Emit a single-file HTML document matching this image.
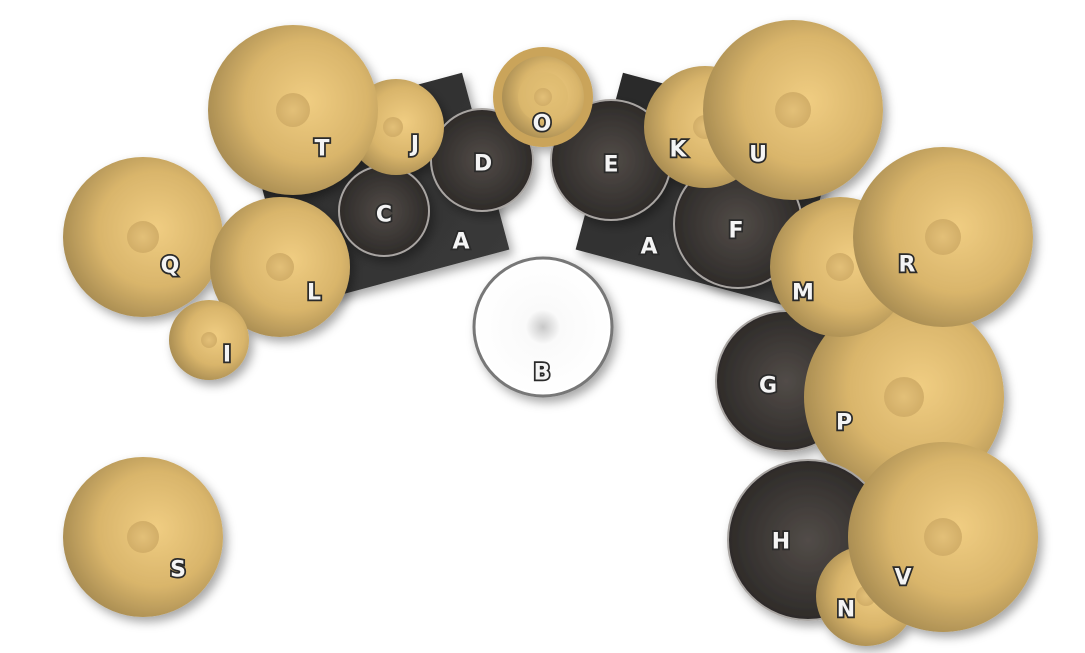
<!DOCTYPE html>
<html><head><meta charset="utf-8"><style>
html,body{margin:0;padding:0;background:#fff;width:1085px;height:653px;overflow:hidden}
svg text{font-family:"DejaVu Sans","Liberation Sans",sans-serif;font-weight:bold;font-size:22px;fill:#f4f4f4;stroke:#2a2a2a;stroke-width:3.5px;paint-order:stroke;text-anchor:middle;dominant-baseline:central}
</style></head><body>
<svg width="1085" height="653" viewBox="0 0 1085 653" xmlns="http://www.w3.org/2000/svg">
<defs>
<radialGradient id="cy" cx="0.58" cy="0.45" r="0.6">
<stop offset="0" stop-color="#f0cd82"/><stop offset="0.6" stop-color="#d9b56b"/><stop offset="1" stop-color="#a88c52"/></radialGradient>
<radialGradient id="bell" cx="0.5" cy="0.5" r="0.5">
<stop offset="0" stop-color="#e3c078"/><stop offset="1" stop-color="#d2ae68"/></radialGradient>
<radialGradient id="dr" cx="0.5" cy="0.5" r="0.5">
<stop offset="0" stop-color="#524c48"/><stop offset="1" stop-color="#2e2b29"/></radialGradient>
<radialGradient id="wh" cx="0.5" cy="0.5" r="0.5">
<stop offset="0" stop-color="#c8c8c8"/><stop offset="0.25" stop-color="#fafafa"/><stop offset="1" stop-color="#ffffff"/></radialGradient>
<linearGradient id="rk" x1="0" y1="0" x2="1" y2="1"><stop offset="0" stop-color="#2a2a2a"/><stop offset="1" stop-color="#3a3a3a"/></linearGradient>
<filter id="sh" x="-30%" y="-30%" width="160%" height="160%"><feDropShadow dx="4" dy="5" stdDeviation="5" flood-color="#000" flood-opacity="0.35"/></filter>
</defs>
<g filter="url(#sh)">
<rect x="266.5" y="98.5" width="223" height="183" fill="url(#rk)" transform="rotate(-15 378 190)"/>
<rect x="595.5" y="98.5" width="223" height="183" fill="url(#rk)" transform="rotate(15 707 190)"/>
</g>
<g filter="url(#sh)">
<circle cx="384" cy="211" r="45" fill="url(#dr)" stroke="#a9a5a2" stroke-width="2"/>
<circle cx="482" cy="160" r="51" fill="url(#dr)" stroke="#a9a5a2" stroke-width="2"/>
<circle cx="611" cy="160" r="60" fill="url(#dr)" stroke="#a9a5a2" stroke-width="2"/>
<circle cx="738" cy="224" r="64" fill="url(#dr)" stroke="#a9a5a2" stroke-width="2"/>
<circle cx="396" cy="127" r="48" fill="url(#cy)"/><circle cx="393" cy="127" r="10" fill="url(#bell)"/>
<circle cx="293" cy="110" r="85" fill="url(#cy)"/><circle cx="293" cy="110" r="17" fill="url(#bell)"/>
<circle cx="143" cy="237" r="80" fill="url(#cy)"/><circle cx="143" cy="237" r="16" fill="url(#bell)"/>
<circle cx="280" cy="267" r="70" fill="url(#cy)"/><circle cx="280" cy="267" r="14" fill="url(#bell)"/>
<circle cx="209" cy="340" r="40" fill="url(#cy)"/><circle cx="209" cy="340" r="8" fill="url(#bell)"/>
<circle cx="143" cy="537" r="80" fill="url(#cy)"/><circle cx="143" cy="537" r="16" fill="url(#bell)"/>
<circle cx="543" cy="97" r="50" fill="#caa45a"/><circle cx="543" cy="97" r="41" fill="url(#cy)"/><circle cx="543" cy="97" r="25" fill="#dcb96e" opacity="0.6"/><circle cx="543" cy="97" r="9" fill="url(#bell)"/>
<circle cx="543" cy="327" r="69" fill="url(#wh)" stroke="#777" stroke-width="3"/>
<circle cx="705" cy="127" r="61" fill="url(#cy)"/><circle cx="705" cy="127" r="12" fill="url(#bell)"/>
<circle cx="793" cy="110" r="90" fill="url(#cy)"/><circle cx="793" cy="110" r="18" fill="url(#bell)"/>
<circle cx="786" cy="381" r="70" fill="url(#dr)" stroke="#a9a5a2" stroke-width="2"/>
<circle cx="904" cy="397" r="100" fill="url(#cy)"/><circle cx="904" cy="397" r="20" fill="url(#bell)"/>
<circle cx="840" cy="267" r="70" fill="url(#cy)"/><circle cx="840" cy="267" r="14" fill="url(#bell)"/>
<circle cx="943" cy="237" r="90" fill="url(#cy)"/><circle cx="943" cy="237" r="18" fill="url(#bell)"/>
<circle cx="808" cy="540" r="80" fill="url(#dr)" stroke="#a9a5a2" stroke-width="2"/>
<circle cx="866" cy="596" r="50" fill="url(#cy)"/><circle cx="866" cy="596" r="10" fill="url(#bell)"/>
<circle cx="943" cy="537" r="95" fill="url(#cy)"/><circle cx="943" cy="537" r="19" fill="url(#bell)"/>
</g>
<g transform="translate(0 2)">
<text x="322" y="147">T</text><text x="415" y="143">J</text><text x="384" y="213">C</text>
<text x="483" y="162">D</text><text x="461" y="240">A</text><text x="314" y="291">L</text>
<text x="170" y="264">Q</text><text x="227" y="353">I</text><text x="178" y="568">S</text>
<text x="542" y="122">O</text><text x="542" y="371">B</text><text x="611" y="163">E</text>
<text x="678" y="148">K</text><text x="758" y="153">U</text><text x="736" y="229">F</text>
<text x="649" y="245">A</text><text x="803" y="291">M</text><text x="907" y="263">R</text>
<text x="768" y="384">G</text><text x="844" y="421">P</text><text x="781" y="540">H</text>
<text x="903" y="576">V</text><text x="846" y="608">N</text>
</g>
</svg>
</body></html>
